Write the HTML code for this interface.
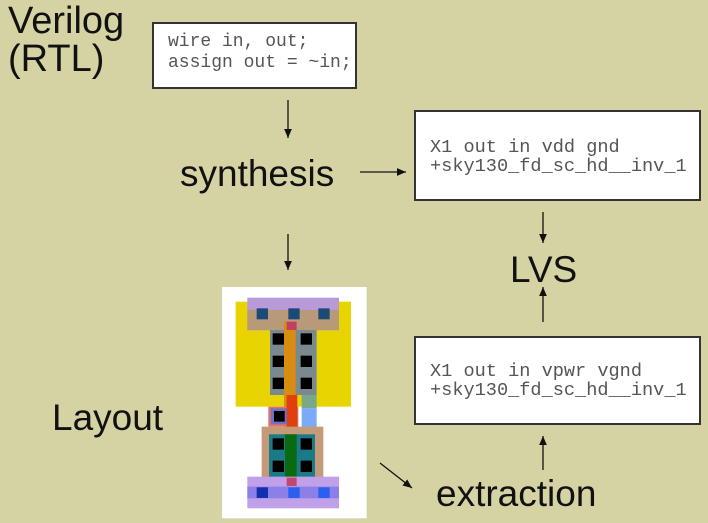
<!DOCTYPE html>
<html><head><style>
body{margin:0;width:708px;height:523px;background:#d5d3a4;position:relative;overflow:hidden;font-family:"Liberation Sans",sans-serif}
.t{position:absolute;color:#111;font-size:37px;line-height:1}
.b{position:absolute;background:#fff;border:2px solid #333;box-sizing:border-box;font-family:"Liberation Mono",monospace;font-size:18.6px;color:#555;line-height:19px;white-space:nowrap}
</style></head><body>
<div class="t" style="left:8px;top:2px;line-height:38px;font-size:38px">Verilog<br>(RTL)</div>
<div class="b" style="left:152px;top:22px;width:205px;height:67px;padding:8px 0 0 14px;line-height:21px;font-size:18px">wire in, out;<br>assign out = ~in;</div>
<div class="t" style="left:180px;top:155px">synthesis</div>
<div class="b" style="left:414px;top:110px;width:287px;height:91px;padding:26px 0 0 14px">X1 out in vdd gnd<br>+sky130_fd_sc_hd__inv_1</div>
<div class="t" style="left:510px;top:251px">LVS</div>
<div class="b" style="left:414px;top:336px;width:287px;height:89px;padding:24px 0 0 14px">X1 out in vpwr vgnd<br>+sky130_fd_sc_hd__inv_1</div>
<div class="t" style="left:52px;top:399px">Layout</div>
<div class="t" style="left:436px;top:475px">extraction</div>
<svg width="708" height="523" style="position:absolute;left:0;top:0">
<defs><marker id="a" markerWidth="8" markerHeight="8" refX="7" refY="4" orient="auto"><path d="M0,1 L7,4 L0,7 z" fill="#111"/></marker></defs>
<g stroke="#111" stroke-width="1.3" marker-end="url(#a)">
<line x1="288" y1="100" x2="288" y2="138"/>
<line x1="288" y1="234" x2="288" y2="270"/>
<line x1="360" y1="172" x2="406" y2="172"/>
<line x1="543" y1="212" x2="543" y2="243"/>
<line x1="543" y1="322" x2="543" y2="287"/>
<line x1="543" y1="470" x2="543" y2="436"/>
<line x1="380" y1="463" x2="412" y2="488"/>
</g>
<g transform="translate(220,285) scale(0.3333)">
<rect x="6" y="6" width="434" height="694" fill="#fff"/>
<rect x="47" y="50" width="346" height="315" fill="#e8d400"/>
<rect x="82" y="38" width="275" height="98" fill="#b89ad8"/>
<rect x="82" y="75" width="275" height="60" fill="#b99a78"/>
<rect x="110" y="70" width="34" height="33" fill="#1c4a78"/>
<rect x="205" y="70" width="34" height="33" fill="#1c4a78"/>
<rect x="295" y="70" width="34" height="33" fill="#1c4a78"/>
<rect x="150" y="135" width="140" height="195" fill="#7a8890"/>
<rect x="192" y="110" width="35" height="340" fill="#d88c10"/>
<rect x="200" y="110" width="30" height="25" fill="#c04060"/>
<rect x="158" y="145" width="34" height="34" fill="#000"/><rect x="242" y="145" width="34" height="34" fill="#000"/>
<rect x="158" y="212" width="34" height="34" fill="#000"/><rect x="242" y="212" width="34" height="34" fill="#000"/>
<rect x="158" y="278" width="34" height="34" fill="#000"/><rect x="242" y="278" width="34" height="34" fill="#000"/>
<rect x="245" y="330" width="45" height="40" fill="#7aa888"/>
<rect x="245" y="370" width="45" height="60" fill="#7aaaf8"/>
<rect x="145" y="365" width="90" height="60" fill="#e87060"/>
<rect x="152" y="370" width="50" height="48" fill="#7070c8"/>
<rect x="162" y="378" width="32" height="32" fill="#000"/>
<rect x="200" y="330" width="32" height="120" fill="#e04010"/>
<rect x="125" y="425" width="185" height="160" fill="#c49a78"/>
<rect x="147" y="448" width="138" height="130" fill="#1a7a88"/>
<rect x="195" y="448" width="35" height="130" fill="#0a6a10"/>
<rect x="158" y="460" width="34" height="34" fill="#000"/><rect x="242" y="460" width="34" height="34" fill="#000"/>
<rect x="158" y="527" width="34" height="34" fill="#000"/><rect x="242" y="527" width="34" height="34" fill="#000"/>
<rect x="82" y="575" width="275" height="95" fill="#c0a0e8"/>
<rect x="82" y="605" width="275" height="35" fill="#8a80e8"/>
<rect x="200" y="578" width="30" height="25" fill="#c04870"/>
<rect x="110" y="607" width="34" height="32" fill="#1030b0"/>
<rect x="205" y="607" width="34" height="32" fill="#2a60f0"/>
<rect x="295" y="607" width="34" height="32" fill="#2a60f0"/>
</g>
</svg>
</body></html>
